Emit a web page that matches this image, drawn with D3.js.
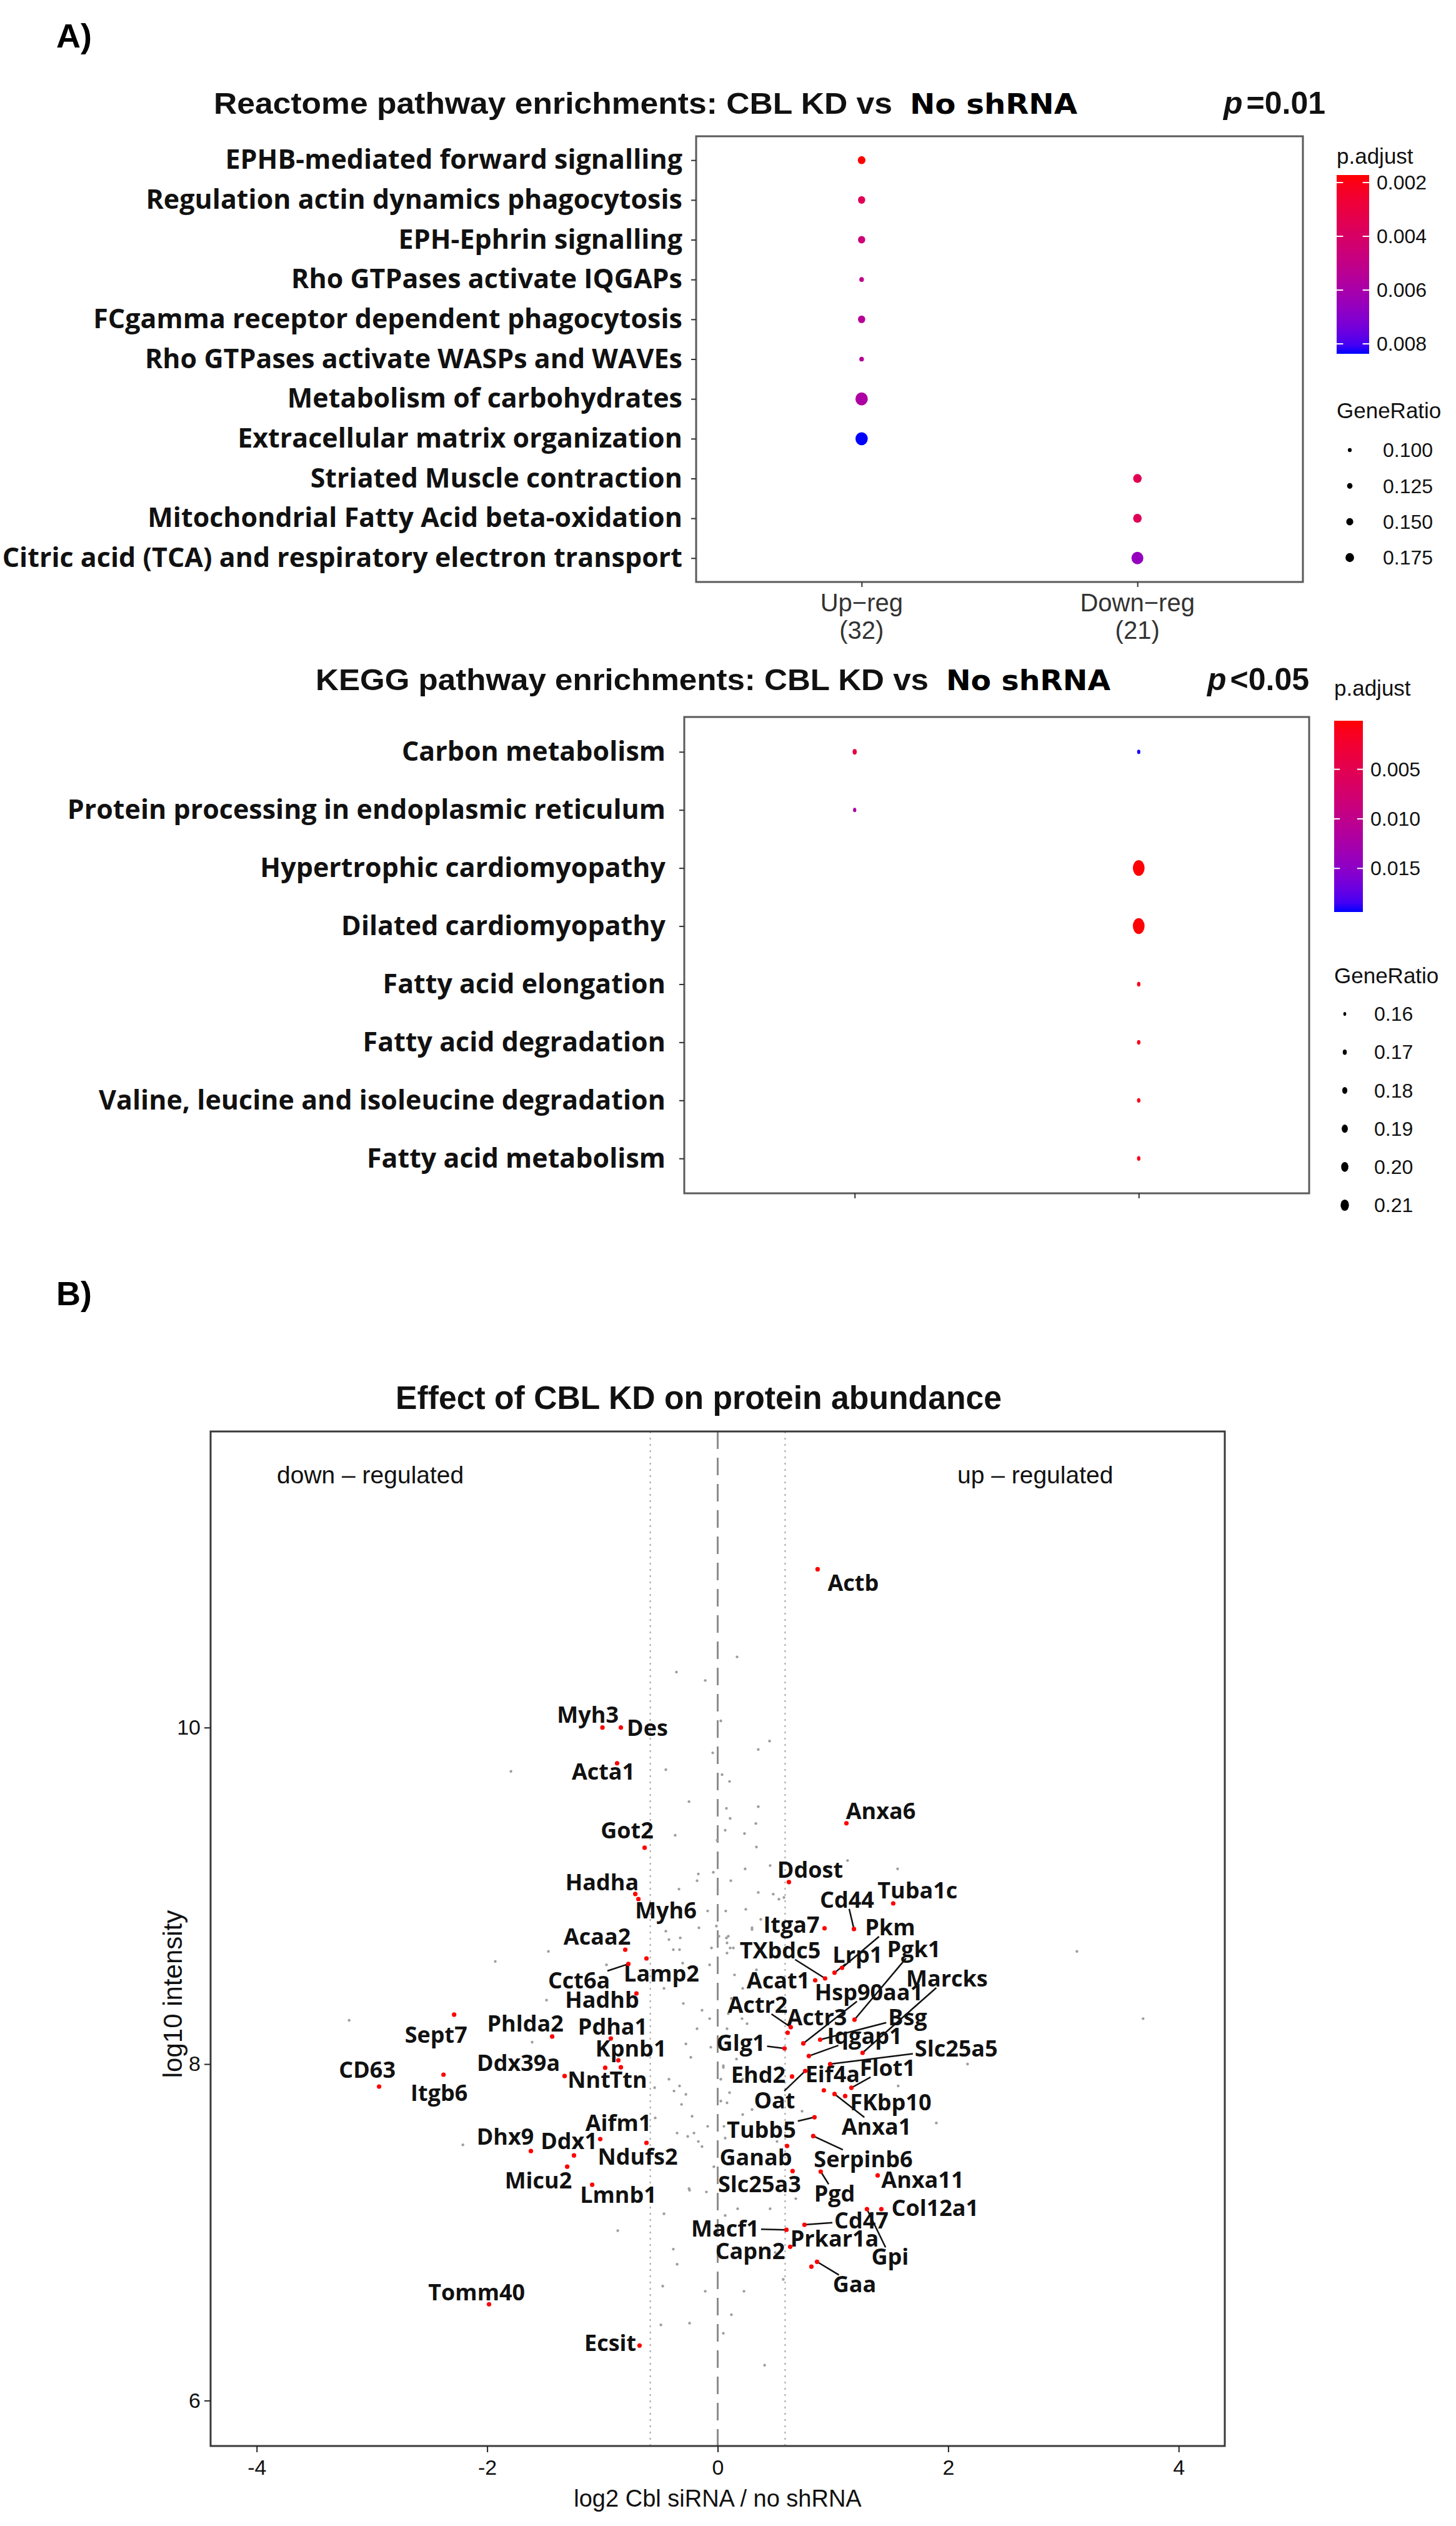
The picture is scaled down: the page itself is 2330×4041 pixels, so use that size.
<!DOCTYPE html>
<html><head><meta charset="utf-8">
<script src="https://cdn.jsdelivr.net/npm/d3@7"></script>
<style>body{margin:0;background:#fff}</style>
</head><body>
<svg id="chart" width="2330" height="4041"></svg>
<script>
// ================= DATA =================
// Panel A – Reactome
const clusterNames = ["Up-reg", "Down-reg"];
const clusterTickLabels = ["Up\u2212reg", "Down\u2212reg"];
const clusterCounts = ["(32)", "(21)"];

const reactomeTerms = [
  "EPHB-mediated forward signalling",
  "Regulation actin dynamics phagocytosis",
  "EPH-Ephrin signalling",
  "Rho GTPases activate IQGAPs",
  "FCgamma receptor dependent phagocytosis",
  "Rho GTPases activate WASPs and WAVEs",
  "Metabolism of carbohydrates",
  "Extracellular matrix organization",
  "Striated Muscle contraction",
  "Mitochondrial Fatty Acid beta-oxidation",
  "Citric acid (TCA) and respiratory electron transport"
];
const reactomeCluster = ["Up-reg","Up-reg","Up-reg","Up-reg","Up-reg","Up-reg","Up-reg","Up-reg","Down-reg","Down-reg","Down-reg"];
const reactomePadj  = [0.0017, 0.0035, 0.0045, 0.0050, 0.0054, 0.0055, 0.0058, 0.0084, 0.0035, 0.0036, 0.0066];
const reactomeRatio = [0.130, 0.125, 0.125, 0.094, 0.125, 0.094, 0.185, 0.185, 0.140, 0.140, 0.180];
const reactomePadjTicks = [0.002, 0.004, 0.006, 0.008];
const reactomeRatioTicks = [0.100, 0.125, 0.150, 0.175];

// Panel A – KEGG
const keggTerms = [
  "Carbon metabolism",
  "Protein processing in endoplasmic reticulum",
  "Hypertrophic cardiomyopathy",
  "Dilated cardiomyopathy",
  "Fatty acid elongation",
  "Fatty acid degradation",
  "Valine, leucine and isoleucine degradation",
  "Fatty acid metabolism"
];
const keggTermOf   = ["Carbon metabolism","Carbon metabolism","Protein processing in endoplasmic reticulum","Hypertrophic cardiomyopathy","Dilated cardiomyopathy","Fatty acid elongation","Fatty acid degradation","Valine, leucine and isoleucine degradation","Fatty acid metabolism"];
const keggCluster  = ["Up-reg","Down-reg","Up-reg","Down-reg","Down-reg","Down-reg","Down-reg","Down-reg","Down-reg"];
const keggPadj     = [0.0040, 0.0192, 0.0120, 0.0003, 0.0003, 0.0010, 0.0012, 0.0012, 0.0012];
const keggRatio    = [0.162, 0.156, 0.156, 0.214, 0.214, 0.157, 0.157, 0.157, 0.157];
const keggPadjTicks = [0.005, 0.010, 0.015];
const keggRatioTicks = [0.16, 0.17, 0.18, 0.19, 0.20, 0.21];

// Panel B – volcano (log2 Cbl siRNA / no shRNA, log10 intensity)
const geneNames = ["Myh3","Des","Acta1","Got2","Hadha","Myh6","Acaa2","Lamp2","Cct6a","Hadhb","Sept7","Phlda2","Pdha1","Kpnb1","Nnt","Ttn","Ddx39a","CD63","Itgb6","Aifm1","Ndufs2","Dhx9","Ddx1","Micu2","Lmnb1","Tomm40","Ecsit",
  "Actb","Anxa6","Ddost","Tuba1c","Cd44","Itga7","Pkm","Lrp1","TXbdc5","Acat1","Pgk1","Hsp90aa1","Marcks","Actr2","Actr3","Bsg","Iqgap1","Glg1","Slc25a5","Ehd2","Oat","Eif4a","Flot1","FKbp10","Anxa1","Tubb5","Serpinb6","Ganab","Slc25a3","Pgd","Anxa11","Col12a1","Cd47","Macf1","Prkar1a","Gpi","Capn2","Gaa"];
const geneLog2FC = [-1.00,-0.84,-0.873,-0.634,-0.715,-0.688,-0.802,-0.618,-0.775,-0.705,-2.287,-1.436,-0.927,-0.862,-0.976,-0.840,-1.328,-2.938,-2.379,-1.019,-0.618,-1.621,-1.247,-1.306,-1.089,-1.984,-0.678,
  0.867,1.117,0.618,1.523,1.182,0.927,1.079,1.014,0.932,0.846,1.187,0.743,1.257,0.634,0.607,0.889,0.791,0.580,0.976,0.645,0.759,0.921,1.160,1.106,1.014,0.840,0.829,0.602,0.650,0.894,1.388,1.420,0.753,0.596,0.813,1.295,0.629,0.862];
const geneLogInt = [10.00,10.00,9.788,9.286,9.011,8.981,8.680,8.628,8.595,8.420,8.294,8.164,8.152,8.022,7.978,7.981,7.929,7.866,7.937,7.554,7.532,7.483,7.457,7.390,7.283,6.572,6.327,
  10.941,9.431,9.082,8.955,8.803,8.807,8.572,8.543,8.509,8.498,8.264,8.123,8.067,8.219,8.186,8.145,8.048,8.093,8.000,7.926,7.959,7.844,7.859,7.810,7.822,7.684,7.572,7.513,7.364,7.361,7.338,7.138,7.045,7.015,6.796,7.138,6.914,6.825];
// label anchor positions (data units)
const labelLog2FC = [-1.127,-0.61,-0.992,-0.786,-1.003,-0.450,-1.046,-0.488,-1.203,-1.003,-2.444,-1.669,-0.911,-0.753,-1.117,-0.775,-1.729,-3.041,-2.417,-0.862,-0.694,-1.843,-1.290,-1.556,-0.862,-2.092,-0.932,
  1.176,1.415,0.802,1.734,1.122,0.640,1.496,1.214,0.542,0.526,1.702,1.312,1.989,0.347,0.862,1.648,1.274,0.201,2.070,0.352,0.493,0.997,1.474,1.501,1.377,0.379,1.263,0.331,0.363,1.014,1.778,1.886,1.247,0.065,1.014,1.496,0.282,1.187];
const labelLogInt = [10.078,10.00,9.740,9.390,9.082,8.915,8.758,8.539,8.498,8.383,8.175,8.242,8.223,8.093,7.907,7.907,8.007,7.967,7.829,7.651,7.450,7.569,7.543,7.309,7.223,6.643,6.342,
  10.859,9.506,9.156,9.033,8.978,8.829,8.814,8.651,8.677,8.498,8.684,8.428,8.509,8.353,8.279,8.279,8.167,8.126,8.093,7.937,7.784,7.941,7.978,7.773,7.628,7.610,7.435,7.446,7.286,7.230,7.312,7.145,7.071,7.022,6.963,6.855,6.888,6.691];
const leaderGenes = ["Cct6a","Cd44","Pkm","Lrp1","TXbdc5","Pgk1","Hsp90aa1","Marcks","Actr2","Bsg","Iqgap1","Glg1","Slc25a5","Oat","Flot1","Anxa1","Tubb5","Serpinb6","Pgd","Cd47","Macf1","Gpi","Gaa"];

// unlabelled proteins (grey)
const bgLog2FC = [0.168,-0.358,-0.108,0.027,0.450,0.352,-0.043,-0.450,0.038,0.103,-0.249,0.076,0.352,0.108,0.331,-0.369,0.065,0.233,-0.005,0.336,-0.168,-0.038,0.238,0.455,1.127,-0.336,-0.179,0.114,0.352,0.482,0.531,0.575,-0.087,0.070,0.244,-0.163,-0.011,0.011,0.298,0.374,-0.450,-0.423,-0.325,-0.385,-0.331,-0.054,0.076,0.081,0.108,0.081,-0.070,-0.304,-0.965,0.336,-1.794,1.561,
  -0.466,-0.298,-0.136,-0.070,-0.179,-0.276,-0.060,-0.233,-0.547,-0.423,-0.331,-0.379,-0.276,-0.314,-0.542,-0.222,-0.087,-0.352,-0.260,-0.206,-0.168,-0.136,-0.033,-0.244,-0.098,-0.466,-0.867,-0.385,-0.352,-0.477,-0.108,0.119,-0.244,-0.493,0.049,0.407,0.173,0.065,0.228,0.054,0.065,0.103,0.027,0.049,0.027,0.081,0.455,0.499,0.569,0.678,0.732,0.298,0.515,0.255,-3.198,-1.930,-1.469,-1.485,-1.610,-2.211,-0.249,3.117,3.691,2.168,1.897,
  0.298,0.092,0.136,0.146,0.217,0.119,0.092,0.211,0.081,0.163,0.049,0.217,0.103,0.217,0.081,1.892,1.566];
const bgLogInt = [10.42,10.33,10.28,10.04,9.92,9.87,9.85,9.75,9.72,9.68,9.56,9.52,9.53,9.46,9.43,9.36,9.39,9.37,9.33,9.29,9.13,9.14,9.16,9.18,9.21,9.04,9.09,9.09,9.02,9.01,8.98,8.99,8.91,8.91,8.92,8.81,8.82,8.76,8.80,8.86,8.79,8.74,8.75,8.68,8.68,8.69,8.75,8.72,8.69,8.66,8.59,8.60,8.59,8.56,9.74,9.16,
  8.45,8.36,8.32,8.27,8.21,8.12,8.10,8.04,7.86,7.91,7.87,7.84,7.82,7.76,7.68,7.69,7.63,7.59,7.57,7.59,7.54,7.51,7.39,7.25,7.24,7.11,7.01,6.90,6.81,6.68,6.65,6.51,6.46,6.45,6.40,6.21,7.14,7.10,6.65,7.63,7.56,7.45,7.78,7.99,7.91,8.09,7.14,6.88,6.72,7.20,7.72,7.73,7.54,8.24,8.26,8.61,8.67,8.38,8.13,7.52,7.26,8.67,8.27,8.00,7.65,
  8.81,8.76,8.69,8.53,8.45,8.39,8.30,8.27,8.21,8.03,7.98,7.91,7.83,7.70,7.77,8.71,7.87];
const xTicksB = [-4, -2, 0, 2, 4];
const yTicksB = [6, 8, 10];
const foldThreshold = 0.585; // log2(1.5)

// ================= DRAWING =================
const svg = d3.select("#chart");
svg.append("rect").attr("width", 2330).attr("height", 4041).attr("fill", "#ffffff");
const SANS = "'Liberation Sans', Arial, sans-serif";
const CAT = "'Open Sans', sans-serif";

// panel letters
svg.append("text").attr("x", 90).attr("y", 76).text("A)")
  .attr("font-family", SANS).attr("font-weight", "bold").attr("font-size", 54);
svg.append("text").attr("x", 90).attr("y", 2088).text("B)")
  .attr("font-family", SANS).attr("font-weight", "bold").attr("font-size", 54);

function title(x, y, main, mainLen, tail, tailLen, pChar, rest, px) {
  const t = svg.append("text").attr("x", x).attr("y", y).attr("font-family", SANS).attr("font-weight", "bold").attr("fill", "#111");
  t.append("tspan").text(main).attr("font-size", 48).attr("textLength", mainLen).attr("lengthAdjust", "spacingAndGlyphs");
  svg.append("text").attr("x", x + mainLen + 28).attr("y", y).attr("font-family", "'DejaVu Sans', sans-serif").attr("font-weight", "bold")
    .attr("font-size", 44).attr("textLength", tailLen).attr("lengthAdjust", "spacingAndGlyphs").text(tail);
  const p = svg.append("text").attr("x", px).attr("y", y).attr("font-family", SANS).attr("font-weight", "bold").attr("font-size", 50).attr("fill", "#111");
  p.append("tspan").text(pChar).attr("font-style", "italic");
  p.append("tspan").text(rest).attr("dx", 6);
}

function dotPanel(o) {
  const xs = d3.scalePoint().domain(clusterNames).range([o.x0, o.x1]).padding(0.6);
  const ys = d3.scalePoint().domain(o.terms).range([o.y0, o.y1]).padding(0.6);
  const col = d3.scaleLinear().domain(o.pDomain).range(["#ff0000", "#0000ff"]).interpolate(d3.interpolateLab).clamp(true);
  const rs = d3.scaleLinear().domain(o.rDomain).range(o.rRange);
  const g = svg.append("g");
  g.append("rect").attr("x", o.x0).attr("y", o.y0).attr("width", o.x1 - o.x0).attr("height", o.y1 - o.y0)
    .attr("fill", "none").attr("stroke", "#5a5a5a").attr("stroke-width", 3);
  // y axis
  const ya = g.append("g").attr("transform", `translate(${o.x0},0)`)
    .call(d3.axisLeft(ys).tickSize(8).tickPadding(o.labPad));
  ya.select(".domain").remove();
  ya.selectAll("line").attr("stroke", "#333").attr("stroke-width", 2);
  ya.selectAll("text").attr("font-family", CAT).attr("font-weight", 700).attr("font-size", o.catSize).attr("fill", "#111");
  // x axis
  const xa = g.append("g").attr("transform", `translate(0,${o.y1})`)
    .call(d3.axisBottom(xs).tickSize(8).tickFormat(() => ""));
  xa.select(".domain").remove();
  xa.selectAll("line").attr("stroke", "#333").attr("stroke-width", 2);
  if (o.xLabels) {
    clusterNames.forEach((c, i) => {
      const t = g.append("text").attr("x", xs(c)).attr("text-anchor", "middle")
        .attr("font-family", SANS).attr("font-size", 40).attr("fill", "#333");
      t.append("tspan").attr("x", xs(c)).attr("y", o.y1 + 47).text(clusterTickLabels[i]);
      t.append("tspan").attr("x", xs(c)).attr("y", o.y1 + 91).text(clusterCounts[i]);
    });
  }
  // points
  o.termOf.forEach((term, i) => {
    const r = rs(o.ratio[i]);
    g.append("ellipse").attr("cx", xs(o.cluster[i])).attr("cy", ys(term))
      .attr("rx", r).attr("ry", r * o.aspect).attr("fill", col(o.padj[i]));
  });
  // colour legend
  const L = o.legend;
  g.append("text").attr("x", L.x).attr("y", L.titleY).text("p.adjust")
    .attr("font-family", SANS).attr("font-size", 35).attr("fill", "#111");
  const gid = "grad" + o.id;
  const grad = svg.append("defs").append("linearGradient").attr("id", gid).attr("x1", 0).attr("x2", 0).attr("y1", 0).attr("y2", 1);
  d3.range(0, 1.0001, 0.05).forEach(t => {
    grad.append("stop").attr("offset", t).attr("stop-color", col(o.pDomain[0] + t * (o.pDomain[1] - o.pDomain[0])));
  });
  g.append("rect").attr("x", L.x).attr("y", L.barY0).attr("width", L.barW).attr("height", L.barY1 - L.barY0).attr("fill", `url(#${gid})`);
  const bs = d3.scaleLinear().domain(o.pDomain).range([L.barY0, L.barY1]);
  o.pTicks.forEach(v => {
    g.append("line").attr("x1", L.x).attr("x2", L.x + L.barW / 5).attr("y1", bs(v)).attr("y2", bs(v)).attr("stroke", "#fff").attr("stroke-width", 2);
    g.append("line").attr("x1", L.x + L.barW).attr("x2", L.x + L.barW * 4 / 5).attr("y1", bs(v)).attr("y2", bs(v)).attr("stroke", "#fff").attr("stroke-width", 2);
    g.append("text").attr("x", L.x + L.barW + 12).attr("y", bs(v)).attr("dy", "0.35em").text(d3.format(o.pFmt)(v))
      .attr("font-family", SANS).attr("font-size", 32).attr("fill", "#111");
  });
  // size legend
  g.append("text").attr("x", L.x).attr("y", L.sizeTitleY).text("GeneRatio")
    .attr("font-family", SANS).attr("font-size", 35).attr("fill", "#111");
  const ls = d3.scalePoint().domain(o.rTicks).range([L.sizeY0, L.sizeY1]);
  o.rTicks.forEach(v => {
    const r = rs(v);
    g.append("ellipse").attr("cx", L.dotX).attr("cy", ls(v)).attr("rx", r * 0.75).attr("ry", r * 0.75 * o.aspect).attr("fill", "#000");
    g.append("text").attr("x", L.labX).attr("y", ls(v)).attr("dy", "0.35em").text(d3.format(o.rFmt)(v))
      .attr("font-family", SANS).attr("font-size", 32).attr("fill", "#111");
  });
}

title(342, 182, "Reactome pathway enrichments: CBL KD vs", 1086, "No shRNA", 268, "p", "=0.01", 1958);
dotPanel({
  id: "R", terms: reactomeTerms, termOf: reactomeTerms, cluster: reactomeCluster, padj: reactomePadj, ratio: reactomeRatio,
  x0: 1114, x1: 2085, y0: 218, y1: 931, labPad: 14, catSize: 43, xLabels: true,
  pDomain: [0.00172, 0.00837], rDomain: [0.09, 0.19], rRange: [3.4, 10.2], aspect: 1.05,
  pTicks: reactomePadjTicks, pFmt: ".3f", rTicks: reactomeRatioTicks, rFmt: ".3f",
  legend: { x: 2139, titleY: 262, barY0: 280, barY1: 566, barW: 52, sizeTitleY: 669, sizeY0: 720, sizeY1: 892, dotX: 2160, labX: 2213 }
});

title(505, 1104, "KEGG pathway enrichments: CBL KD vs", 981, "No shRNA", 263, "p", "<0.05", 1932);
dotPanel({
  id: "K", terms: keggTerms, termOf: keggTermOf, cluster: keggCluster, padj: keggPadj, ratio: keggRatio,
  x0: 1095, x1: 2095, y0: 1147, y1: 1909, labPad: 22, catSize: 43, xLabels: false,
  pDomain: [0.0001, 0.0194], rDomain: [0.155, 0.215], rRange: [2.5, 9.5], aspect: 1.35,
  pTicks: keggPadjTicks, pFmt: ".3f", rTicks: keggRatioTicks, rFmt: ".2f",
  legend: { x: 2135, titleY: 1113, barY0: 1153, barY1: 1459, barW: 46, sizeTitleY: 1573, sizeY0: 1622, sizeY1: 1928, dotX: 2152, labX: 2199 }
});

// ---------- Panel B: volcano ----------
const bx0 = 337, bx1 = 1960, by0 = 2290, by1 = 3913;
const xB = d3.scaleLinear().domain([-4.4, 4.4]).range([bx0, bx1]);
const yB = d3.scaleLinear().domain([5.73, 11.76]).range([by1, by0]);
const gB = svg.append("g");

svg.append("text").attr("x", 1118).attr("y", 2254).attr("text-anchor", "middle")
  .attr("font-family", SANS).attr("font-weight", "bold").attr("font-size", 51).attr("fill", "#111")
  .attr("textLength", 970).attr("lengthAdjust", "spacingAndGlyphs")
  .text("Effect of CBL KD on protein abundance");

// reference lines
[-foldThreshold, foldThreshold].forEach(v => {
  gB.append("line").attr("x1", xB(v)).attr("x2", xB(v)).attr("y1", by0).attr("y2", by1)
    .attr("stroke", "#a8a8a8").attr("stroke-width", 2).attr("stroke-dasharray", "3,7");
});
gB.append("line").attr("x1", xB(0)).attr("x2", xB(0)).attr("y1", by0).attr("y2", by1)
  .attr("stroke", "#8c8c8c").attr("stroke-width", 3).attr("stroke-dasharray", "28,14");

gB.append("text").attr("x", 443).attr("y", 2373).text("down \u2013 regulated").attr("text-anchor", "start")
  .attr("font-family", SANS).attr("font-size", 39).attr("fill", "#111");
gB.append("text").attr("x", 1532).attr("y", 2373).text("up \u2013 regulated").attr("text-anchor", "start")
  .attr("font-family", SANS).attr("font-size", 39).attr("fill", "#111");

// grey points
bgLog2FC.forEach((v, i) => {
  gB.append("circle").attr("cx", xB(v)).attr("cy", yB(bgLogInt[i])).attr("r", 2.2).attr("fill", "#9e9e9e");
});

// labels + leader lines
const lineLayer = gB.append("g");
const labLayer = gB.append("g");
const ptLayer = gB.append("g");
geneNames.forEach((name, i) => {
  const px = xB(geneLog2FC[i]), py = yB(geneLogInt[i]);
  const lx = xB(labelLog2FC[i]), ly = yB(labelLogInt[i]);
  const t = labLayer.append("text").attr("x", lx).attr("y", ly).attr("dy", "0.36em").attr("text-anchor", "middle")
    .attr("font-family", CAT).attr("font-weight", 700).attr("font-size", 36).attr("fill", "#111").text(name);
  if (leaderGenes.includes(name)) {
    const b = t.node().getBBox();
    const hw = b.width / 2 + 3, hh = 15;
    const dx = px - lx, dy = py - ly;
    const s = Math.min(dx === 0 ? Infinity : hw / Math.abs(dx), dy === 0 ? Infinity : hh / Math.abs(dy));
    if (s < 1) {
      lineLayer.append("line").attr("x1", px).attr("y1", py).attr("x2", lx + dx * s).attr("y2", ly + dy * s)
        .attr("stroke", "#111").attr("stroke-width", 2.5);
    }
  }
  ptLayer.append("circle").attr("cx", px).attr("cy", py).attr("r", 3.6).attr("fill", "#ff0000");
});

// box + axes
gB.append("rect").attr("x", bx0).attr("y", by0).attr("width", bx1 - bx0).attr("height", by1 - by0)
  .attr("fill", "none").attr("stroke", "#3a3a3a").attr("stroke-width", 3);
const axL = gB.append("g").attr("transform", `translate(${bx0},0)`)
  .call(d3.axisLeft(yB).tickValues(yTicksB).tickSize(10).tickPadding(6).tickFormat(d => String(d)));
axL.select(".domain").remove();
axL.selectAll("line").attr("stroke", "#222").attr("stroke-width", 2);
axL.selectAll("text").attr("font-family", SANS).attr("font-size", 34).attr("fill", "#111");
const axB = gB.append("g").attr("transform", `translate(0,${by1})`)
  .call(d3.axisBottom(xB).tickValues(xTicksB).tickSize(10).tickPadding(12).tickFormat(d => String(d)));
axB.select(".domain").remove();
axB.selectAll("line").attr("stroke", "#222").attr("stroke-width", 2);
axB.selectAll("text").attr("font-family", SANS).attr("font-size", 34).attr("fill", "#111");

gB.append("text").attr("x", xB(0)).attr("y", 4010).attr("text-anchor", "middle")
  .attr("font-family", SANS).attr("font-size", 38).attr("fill", "#111").text("log2 Cbl siRNA / no shRNA");
gB.append("text").attr("transform", `translate(291,3190) rotate(-90)`).attr("text-anchor", "middle")
  .attr("font-family", SANS).attr("font-size", 42).attr("fill", "#111").text("log10 intensity");
</script></body></html>
